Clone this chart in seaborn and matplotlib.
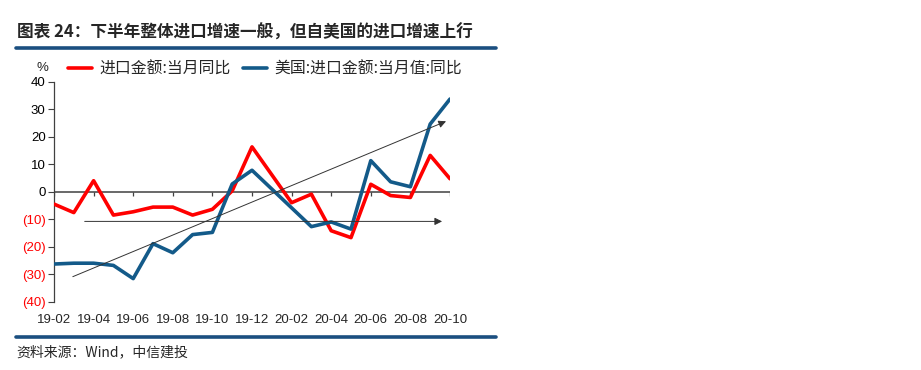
import numpy as np
import pandas as pd
import matplotlib
matplotlib.use("Agg")
import matplotlib.pyplot as plt
from matplotlib.lines import Line2D
import seaborn as sns

sns.set_theme(style="white")
plt.rcParams['font.family'] = ['Liberation Sans', 'Noto Sans CJK SC', 'DejaVu Sans']
plt.rcParams['axes.unicode_minus'] = False

# ---------------- data ----------------
months = ["19-02", "19-03", "19-04", "19-05", "19-06", "19-07", "19-08", "19-09",
          "19-10", "19-11", "19-12", "20-01", "20-02", "20-03", "20-04", "20-05",
          "20-06", "20-07", "20-08", "20-09", "20-10"]
total_yoy = [-4.5, -7.6, 4.0, -8.5, -7.3, -5.6, -5.6, -8.5, -6.4, 0.3, 16.3,
             np.nan, -4.0, -0.9, -14.2, -16.7, 2.7, -1.4, -2.1, 13.2, 4.7]
us_yoy = [-26.3, -26.0, -26.0, -26.8, -31.6, -18.9, -22.2, -15.6, -14.8, 2.8, 7.8,
          np.nan, np.nan, -12.7, -11.0, -13.6, 11.3, 3.6, 1.8, 24.6, 33.7]
series_names = ["进口金额:当月同比", "美国:进口金额:当月值:同比"]
tick_labels = months[::2]
# trend arrows (x as month index, y in %)
trend_start = (0.95, -30.9)
trend_end = (19.8, 25.6)
flat_start = (1.55, -10.8)
flat_end = (19.6, -10.8)

RED = "#FF0000"
BLUE = "#135A89"
RULE = "#1B4F80"
GREY = "#404040"

idx = np.arange(len(months))
df = pd.concat([
    pd.DataFrame({"x": idx, "v": total_yoy, "s": series_names[0]}),
    pd.DataFrame({"x": idx, "v": us_yoy, "s": series_names[1]}),
]).dropna()

fig = plt.figure(figsize=(9.21, 3.70), dpi=100)
W, H = 921, 370
ax = fig.add_axes([54 / W, 1 - 301.7 / H, (450 - 54) / W, (301.7 - 81.7) / H])
ax.set_xlim(0, 20)
ax.set_ylim(-40, 40)

# zero line with downward tick marks
ax.axhline(0, color=GREY, lw=1.1, zorder=1)
ax.vlines(idx[::2], -1.5, 0, color=GREY, lw=0.9, zorder=1)

sns.lineplot(data=df, x="x", y="v", hue="s", palette=[RED, BLUE],
             hue_order=series_names, linewidth=2.6, ax=ax, legend=False,
             sort=True, estimator=None, zorder=3)

ax.set_xlim(0, 20)
ax.set_ylim(-40, 40)
ax.set_xlabel("")
ax.set_ylabel("")

# y axis
yt = np.arange(-40, 41, 10)
ax.set_yticks(yt)
ax.set_yticklabels([f"({abs(v)})" if v < 0 else f"{v}" for v in yt])
for lab, v in zip(ax.get_yticklabels(), yt):
    lab.set_color(RED if v < 0 else "black")
ax.tick_params(axis="y", direction="out", length=4, width=0.8, color=GREY,
               labelsize=9.5, pad=2, left=True)
ax.spines["left"].set_color(GREY)
ax.spines["left"].set_linewidth(0.9)
for s in ["top", "right", "bottom"]:
    ax.spines[s].set_visible(False)

# x labels at bottom
ax.set_xticks(idx[::2])
ax.set_xticklabels(tick_labels)
ax.tick_params(axis="x", length=0, labelsize=9.5, pad=9)

# arrows
arrow_kw = dict(arrowstyle="-|>", lw=0.7, color="#333333", mutation_scale=11,
                shrinkA=0, shrinkB=0)
ax.annotate("", xy=trend_end, xytext=trend_start, arrowprops=arrow_kw)
ax.annotate("", xy=flat_end, xytext=flat_start, arrowprops=arrow_kw)

# legend
handles = [Line2D([0], [0], color=RED, lw=2.6), Line2D([0], [0], color=BLUE, lw=2.6)]
leg = fig.legend(handles, series_names, loc="center left",
                 bbox_to_anchor=(65 / W, 1 - 69 / H), ncol=2, frameon=False,
                 handlelength=1.5, handletextpad=0.45, columnspacing=0.8,
                 borderaxespad=0, borderpad=0.2,
                 prop={"family": ["Noto Sans CJK SC"], "size": 11.4})
fig.text(42 / W, 1 - 68 / H, "%", ha="center", va="center", fontsize=9.5)

# title and rules
fig.text(17 / W, 1 - 33 / H, "图表 24：下半年整体进口增速一般，但自美国的进口增速上行",
         ha="left", va="center", fontsize=12, fontweight="bold",
         family=["Noto Sans CJK SC"])
fig.add_artist(Line2D([16 / W, 496 / W], [1 - 48.3 / H, 1 - 48.3 / H],
                      color=RULE, lw=2.6, transform=fig.transFigure))
fig.add_artist(Line2D([16 / W, 496 / W], [1 - 336.5 / H, 1 - 336.5 / H],
                      color=RULE, lw=2.6, transform=fig.transFigure))
fig.text(16 / W, 1 - 352 / H, "资料来源：Wind，中信建投", ha="left", va="center",
         fontsize=10, style="italic", family=["Noto Sans CJK SC"])

fig.savefig("out.png", dpi=100)
